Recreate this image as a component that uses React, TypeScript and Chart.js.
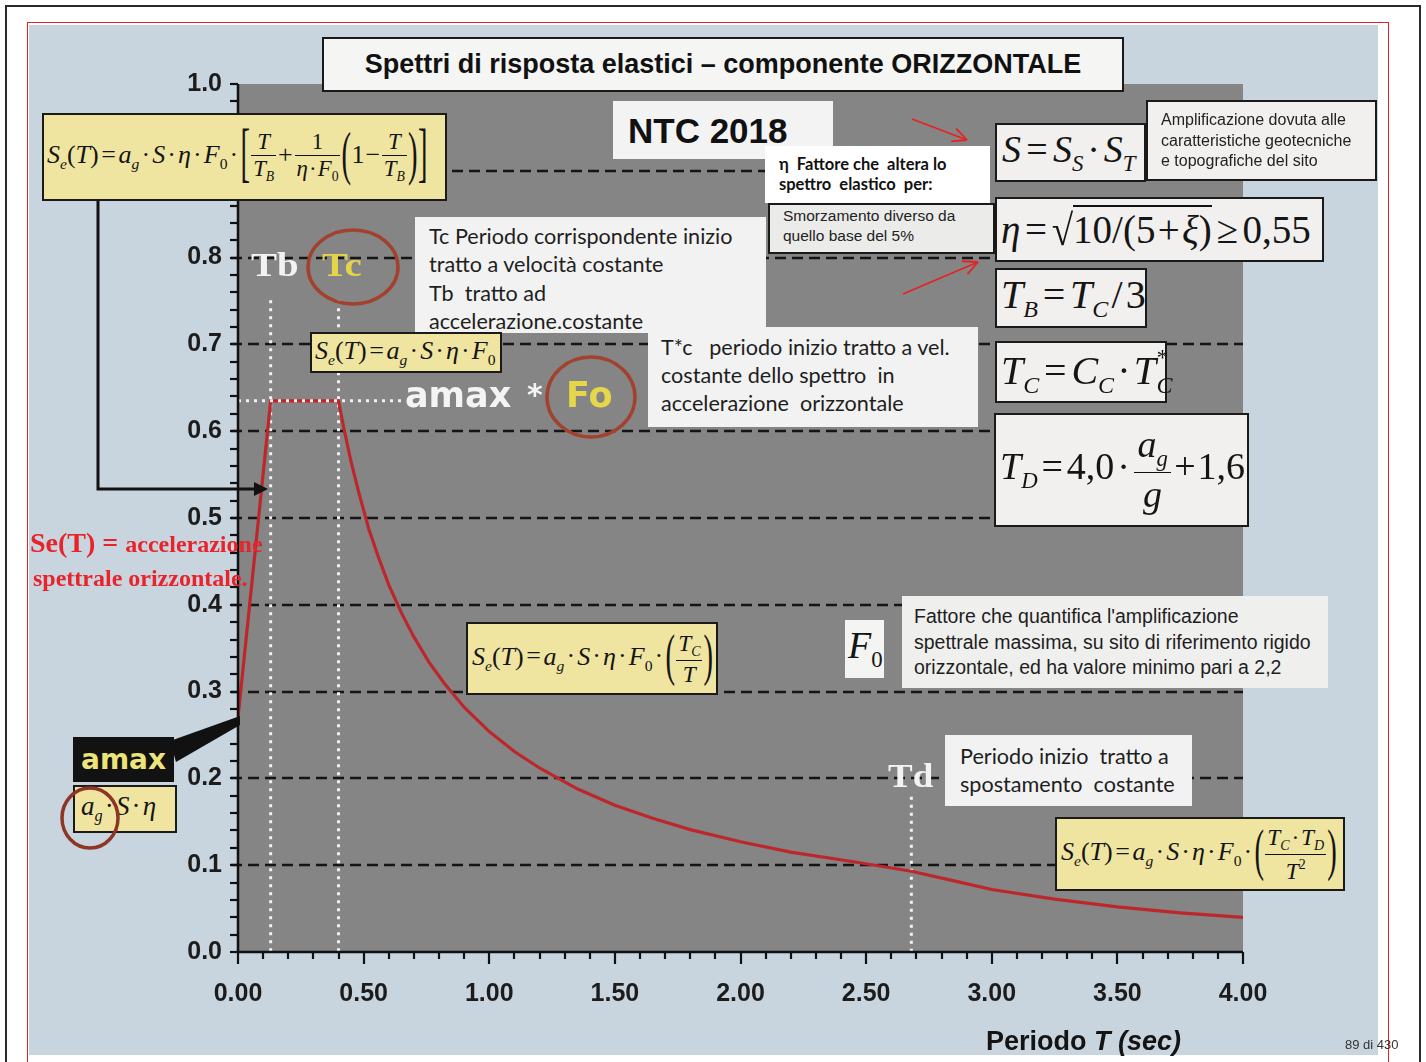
import React, { useEffect, useRef } from 'react';
import { Chart, registerables } from 'chart.js';

Chart.register(...registerables);

// ---------------- data ----------------
const periods = [0, 0.13, 0.40, 0.42, 0.45, 0.48, 0.52, 0.56, 0.60, 0.65, 0.70, 0.76, 0.82, 0.90, 1.00, 1.10, 1.20, 1.35, 1.50, 1.65, 1.80, 2.00, 2.20, 2.45, 2.68, 2.85, 3.00, 3.25, 3.50, 3.75, 4.00];
const spectralAcc = [0.27, 0.635, 0.635, 0.605, 0.565, 0.53, 0.488, 0.454, 0.423, 0.391, 0.363, 0.334, 0.31, 0.282, 0.254, 0.231, 0.212, 0.188, 0.169, 0.154, 0.141, 0.127, 0.115, 0.104, 0.093, 0.082, 0.072, 0.061, 0.052, 0.045, 0.040];
const gridValues = [0.1, 0.2, 0.3, 0.4, 0.5, 0.6, 0.7, 0.8, 0.9];
const cornerPeriods = [0.13, 0.40, 2.68]; // Tb, Tc, Td
const cornerLineTop = [0.751, 0.751, 0.179];
const plateauValue = 0.635;
const plateauLineEnd = 0.65;
const xRange = [0, 4];
const yRange = [0, 1];
const xMajorStep = 0.5;
const xMinorStep = 0.1;
const yMajorStep = 0.1;
const yMinorStep = 0.02;

// ---------------- styles ----------------
const SANS = '"Liberation Sans", Arial, sans-serif';
const SERIF = '"Liberation Serif", "Times New Roman", serif';
const CAL = 'Lato, "Open Sans", sans-serif';
const DJ = '"DejaVu Sans", Verdana, sans-serif';
const BLUE_BG = '#c8d5df';
const PLOT_BG = '#858585';
const YEL = '#efe5a1';
const WBOX = '#f1f0ee';
const GBOX = '#f2f2f2';
const CURVE = '#bd272c';
const BORDER = '2px solid #1a1a1a';

const decor = {
  id: 'decor',
  beforeDraw(chart: any) {
    const { ctx, chartArea: a } = chart;
    ctx.save();
    ctx.fillStyle = PLOT_BG;
    ctx.fillRect(a.left, a.top, a.right - a.left, a.bottom - a.top);
    ctx.restore();
  },
  beforeDatasetsDraw(chart: any) {
    const { ctx, chartArea: a, scales } = chart;
    const x = scales.x, y = scales.y;
    ctx.save();
    ctx.strokeStyle = '#151515';
    ctx.lineWidth = 2.4;
    ctx.setLineDash([11, 6]);
    gridValues.forEach((v) => {
      const py = Math.round(y.getPixelForValue(v));
      ctx.beginPath();
      ctx.moveTo(a.left - 7, py);
      ctx.lineTo(a.right, py);
      ctx.stroke();
    });
    ctx.strokeStyle = 'rgba(248,248,248,0.95)';
    ctx.lineWidth = 3;
    ctx.setLineDash([3, 5]);
    cornerPeriods.forEach((t, i) => {
      const px = x.getPixelForValue(t);
      ctx.beginPath();
      ctx.moveTo(px, y.getPixelForValue(cornerLineTop[i]));
      ctx.lineTo(px, a.bottom);
      ctx.stroke();
    });
    ctx.restore();
  },
  afterDatasetsDraw(chart: any) {
    const { ctx, chartArea: a, scales } = chart;
    const x = scales.x, y = scales.y;
    ctx.save();
    ctx.strokeStyle = 'rgba(248,248,248,0.95)';
    ctx.lineWidth = 3;
    ctx.setLineDash([3, 5]);
    const pv = y.getPixelForValue(plateauValue);
    ctx.beginPath();
    ctx.moveTo(a.left, pv);
    ctx.lineTo(x.getPixelForValue(plateauLineEnd), pv);
    ctx.stroke();
    ctx.setLineDash([]);
    ctx.strokeStyle = '#111';
    ctx.lineWidth = 2.5;
    ctx.beginPath();
    ctx.moveTo(a.left, a.top);
    ctx.lineTo(a.left, a.bottom);
    ctx.lineTo(a.right, a.bottom);
    ctx.stroke();
    ctx.lineWidth = 2.2;
    const ny = Math.round((yRange[1] - yRange[0]) / yMinorStep);
    for (let i = 0; i <= ny; i++) {
      const py = Math.round(y.getPixelForValue(yRange[0] + i * yMinorStep));
      ctx.beginPath();
      ctx.moveTo(a.left - 8, py);
      ctx.lineTo(a.left, py);
      ctx.stroke();
    }
    const nx = Math.round((xRange[1] - xRange[0]) / xMinorStep);
    const perMajor = Math.round(xMajorStep / xMinorStep);
    for (let i = 0; i <= nx; i++) {
      const px = Math.round(x.getPixelForValue(xRange[0] + i * xMinorStep));
      ctx.beginPath();
      ctx.moveTo(px, a.bottom);
      ctx.lineTo(px, a.bottom + (i % perMajor === 0 ? 12 : 7));
      ctx.stroke();
    }
    ctx.restore();
  },
};

// ---------------- math helpers ----------------
function Sub({ children, upright = false }: any) {
  return (
    <span style={{ fontSize: '0.6em', fontStyle: upright ? 'normal' : 'italic', verticalAlign: '-0.38em' }}>{children}</span>
  );
}
function Op({ children, gap = 0.1 }: any) {
  return <span style={{ margin: `0 ${gap}em` }}>{children}</span>;
}
function Dot({ gap = 0.08 }: any) {
  return <Op gap={gap}>·</Op>;
}
function Frac({ n, d, size = 0.9 }: any) {
  return (
    <span
      style={{
        display: 'inline-flex',
        flexDirection: 'column',
        alignItems: 'stretch',
        verticalAlign: 'middle',
        fontSize: `${size}em`,
        lineHeight: 1.05,
        margin: '0 0.04em',
        textAlign: 'center',
      }}
    >
      <span style={{ padding: '0 0.08em 0.05em' }}>{n}</span>
      <span style={{ borderTop: '1.6px solid #111', padding: '0.05em 0.08em 0' }}>{d}</span>
    </span>
  );
}
function Big({ ch, sy = 1.9, size = 1.1 }: any) {
  return (
    <span
      style={{
        display: 'inline-block',
        fontSize: `${size}em`,
        transform: `scaleY(${sy})`,
        verticalAlign: 'middle',
        lineHeight: 1,
        margin: '0 0.01em',
        position: 'relative',
        top: '-0.08em',
      }}
    >
      {ch}
    </span>
  );
}
function SubSup({ sub, sup }: any) {
  return (
    <span
      style={{
        display: 'inline-flex',
        flexDirection: 'column',
        fontSize: '0.6em',
        lineHeight: 1.15,
        verticalAlign: '0.78em',
        marginLeft: '0.02em',
      }}
    >
      <span>{sup}</span>
      <span style={{ fontStyle: 'italic' }}>{sub}</span>
    </span>
  );
}
function SeHead() {
  return (
    <>
      <i>S</i>
      <Sub>e</Sub>(<i>T</i>)<Op>=</Op>
      <i>a</i>
      <Sub>g</Sub>
      <Dot />
      <i>S</i>
      <Dot />
      <i>η</i>
      <Dot />
      <i>F</i>
      <Sub upright>0</Sub>
    </>
  );
}

function Box({ x, y, w, h, bg, border = BORDER, pad = 5, fs, children, justify = 'flex-start' }: any) {
  return (
    <div
      style={{
        position: 'absolute',
        left: x,
        top: y,
        width: w,
        height: h,
        boxSizing: 'border-box',
        background: bg,
        border,
        display: 'flex',
        alignItems: 'center',
        justifyContent: justify,
        paddingLeft: pad,
        fontFamily: SERIF,
        fontSize: fs,
        color: '#151515',
        whiteSpace: 'nowrap',
      }}
    >
      <div style={{ lineHeight: 1 }}>{children}</div>
    </div>
  );
}

function TextBox({ x, y, w, h, bg, border = 'none', lines, font, fs, lh, padL, padT, weight = 400, color = '#1e1e1e' }: any) {
  return (
    <div
      style={{
        position: 'absolute',
        left: x,
        top: y,
        width: w,
        height: h,
        boxSizing: 'border-box',
        background: bg,
        border,
        paddingLeft: padL,
        paddingTop: padT,
        fontFamily: font,
        fontSize: fs,
        fontWeight: weight,
        color,
        whiteSpace: 'pre',
        overflow: 'hidden',
      }}
    >
      {lines.map((l: string, i: number) => (
        <div key={i} style={{ lineHeight: `${lh}px`, height: lh }}>
          {l}
        </div>
      ))}
    </div>
  );
}

function Label({ x, y, fs, lh, font, weight = 700, color, children, style = {} }: any) {
  return (
    <div
      style={{
        position: 'absolute',
        left: x,
        top: y,
        fontFamily: font,
        fontSize: fs,
        lineHeight: `${lh}px`,
        fontWeight: weight,
        color,
        whiteSpace: 'nowrap',
        ...style,
      }}
    >
      {children}
    </div>
  );
}

function Arrow({ x1, y1, x2, y2 }: any) {
  const ang = Math.atan2(y2 - y1, x2 - x1);
  const L = 16;
  const a1 = ang + Math.PI - 0.45;
  const a2 = ang + Math.PI + 0.45;
  return (
    <g stroke="#e62222" strokeWidth={1.8} fill="none">
      <line x1={x1} y1={y1} x2={x2} y2={y2} />
      <line x1={x2} y1={y2} x2={x2 + L * Math.cos(a1)} y2={y2 + L * Math.sin(a1)} />
      <line x1={x2} y1={y2} x2={x2 + L * Math.cos(a2)} y2={y2 + L * Math.sin(a2)} />
    </g>
  );
}

export default function App() {
  const ref = useRef<HTMLCanvasElement | null>(null);

  useEffect(() => {
    if (!ref.current) return;
    const tickFont = { family: SANS, size: 25, weight: 'bold' as const };
    const chart = new Chart(ref.current, {
      type: 'line',
      data: {
        datasets: [
          {
            data: periods.map((t, i) => ({ x: t, y: spectralAcc[i] })),
            borderColor: CURVE,
            borderWidth: 3.2,
            pointRadius: 0,
            tension: 0,
            fill: false,
          },
        ],
      },
      options: {
        animation: false,
        responsive: false,
        devicePixelRatio: 1,
        events: [],
        layout: { padding: { left: 178, top: 84, right: 183, bottom: 50 } },
        plugins: { legend: { display: false }, tooltip: { enabled: false } },
        scales: {
          x: {
            type: 'linear',
            min: xRange[0],
            max: xRange[1],
            afterFit: (s: any) => {
              s.height = 60;
            },
            grid: { display: false },
            border: { display: false },
            ticks: {
              stepSize: xMajorStep,
              autoSkip: false,
              maxRotation: 0,
              padding: 19,
              color: '#1c1c1c',
              font: tickFont,
              callback: (v: any) => Number(v).toFixed(2),
            },
          },
          y: {
            type: 'linear',
            min: yRange[0],
            max: yRange[1],
            afterFit: (s: any) => {
              s.width = 60;
            },
            grid: { display: false },
            border: { display: false },
            ticks: {
              stepSize: yMajorStep,
              padding: 8,
              color: '#1c1c1c',
              font: tickFont,
              callback: (v: any) => Number(v).toFixed(1),
            },
          },
        },
      },
      plugins: [decor],
    });
    return () => chart.destroy();
  }, []);

  return (
    <div style={{ position: 'absolute', left: 0, top: 0, width: 1426, height: 1062, overflow: 'hidden', background: '#fff' }}>
      {/* page frames */}
      <div style={{ position: 'absolute', left: 5, top: 5, width: 1416, height: 1100, border: '2px solid #2a2a2a', boxSizing: 'border-box' }} />
      <div style={{ position: 'absolute', left: 27, top: 22, width: 1362, height: 1100, border: '1.5px solid #e02424', boxSizing: 'border-box' }} />
      <div style={{ position: 'absolute', left: 29, top: 25, width: 1349, height: 1030, background: BLUE_BG }} />

      <canvas ref={ref} width={1426} height={1062} style={{ position: 'absolute', left: 0, top: 0 }} />

      {/* title */}
      <div
        style={{
          position: 'absolute', left: 322, top: 37, width: 802, height: 55, boxSizing: 'border-box',
          background: '#f5f5f4', border: BORDER, fontFamily: SANS, fontWeight: 700, fontSize: 27,
          lineHeight: '30px', paddingTop: 10, textAlign: 'center', color: '#111', whiteSpace: 'nowrap',
        }}
      >
        Spettri di risposta elastici – componente ORIZZONTALE
      </div>

      {/* NTC 2018 */}
      <TextBox x={613} y={101} w={220} h={58} bg="#f3f3f3" lines={['NTC 2018']} font={SANS} fs={35} lh={40} padL={15} padT={10} weight={700} color="#111" />

      {/* eta description */}
      <TextBox x={768} y={203} w={227} h={51} bg="#ebebea" border={BORDER} lines={['Smorzamento diverso da', 'quello base del 5%']} font={SANS} fs={15.5} lh={20} padL={13} padT={1} color="#222" />
      <TextBox x={765} y={146} w={225} h={57} bg="#ffffff" lines={['η  Fattore che  altera lo', 'spettro  elastico  per:']} font={CAL} fs={16.5} lh={20} padL={14} padT={8} weight={700} color="#111" />

      {/* Tc description */}
      <TextBox x={415} y={217} w={351} h={116} bg={GBOX} lines={['Tc Periodo corrispondente inizio', 'tratto a velocità costante', 'Tb  tratto ad', 'accelerazione.costante']} font={CAL} fs={21.6} lh={28.3} padL={14} padT={5} />
      {/* T*c description */}
      <TextBox x={648} y={327} w={330} h={100} bg={GBOX} lines={['T*c   periodo inizio tratto a vel.', 'costante dello spettro  in', 'accelerazione  orizzontale']} font={CAL} fs={21.6} lh={28} padL={13} padT={6} />

      {/* right column formulas */}
      <Box x={995} y={123} w={151} h={59} bg={WBOX} fs={38} pad={5}>
        <i>S</i><Op gap={0.14}>=</Op><i>S</i><Sub>S</Sub><Dot gap={0.1} /><i>S</i><Sub>T</Sub>
      </Box>
      <TextBox x={1146} y={100} w={231} h={81} bg={WBOX} border={BORDER} lines={['Amplificazione dovuta alle', 'caratteristiche geotecniche', 'e topografiche del sito']} font={SANS} fs={16} lh={20.5} padL={13} padT={8} color="#222" />
      <Box x={995} y={197} w={329} h={65} bg={WBOX} fs={39} pad={4}>
        <i>η</i><Op gap={0.12}>=</Op>
        <span style={{ display: 'inline-block', transform: 'scaleY(1.12)' }}>√</span>
        <span style={{ borderTop: '2px solid #111', paddingTop: 1 }}>
          10/(5<Op gap={0.06}>+</Op><i>ξ</i>)
        </span>
        <Op gap={0.12}>≥</Op>0,55
      </Box>
      <Box x={995} y={268} w={152} h={60} bg={WBOX} fs={40} pad={4}>
        <i>T</i><Sub>B</Sub><Op gap={0.12}>=</Op><i>T</i><Sub>C</Sub><Op gap={0.08}>/</Op>3
      </Box>
      <Box x={995} y={341} w={172} h={62} bg={WBOX} fs={40} pad={4}>
        <i>T</i><Sub>C</Sub><Op gap={0.12}>=</Op><i>C</i><Sub>C</Sub><Dot /><i>T</i><SubSup sub="C" sup="*" />
      </Box>
      <Box x={994} y={413} w={255} h={114} bg={WBOX} fs={38} pad={4}>
        <i>T</i><Sub>D</Sub><Op gap={0.1}>=</Op>4,0<Dot />
        <Frac size={1} n={<><i>a</i><Sub>g</Sub></>} d={<i>g</i>} />
        <Op gap={0.05}>+</Op>1,6
      </Box>

      {/* yellow formulas */}
      <Box x={42} y={113} w={405} h={88} bg={YEL} fs={26} pad={3}>
        <SeHead /><Dot />
        <Big ch="[" sy={2.3} />
        <Frac size={0.88} n={<i>T</i>} d={<><i>T</i><Sub>B</Sub></>} />
        <Op gap={0.04}>+</Op>
        <Frac size={0.88} n="1" d={<><i>η</i><Dot gap={0.05} /><i>F</i><Sub upright>0</Sub></>} />
        <Big ch="(" sy={2.1} />1<Op gap={0.04}>−</Op>
        <Frac size={0.88} n={<i>T</i>} d={<><i>T</i><Sub>B</Sub></>} />
        <Big ch=")" sy={2.1} />
        <Big ch="]" sy={2.3} />
      </Box>
      <Box x={310} y={332} w={192} h={41} bg={YEL} fs={26} pad={3}>
        <SeHead />
      </Box>
      <Box x={466} y={622} w={252} h={73} bg={YEL} fs={26} pad={4}>
        <SeHead /><Dot />
        <Big ch="(" sy={2} />
        <Frac n={<><i>T</i><Sub>C</Sub></>} d={<i>T</i>} />
        <Big ch=")" sy={2} />
      </Box>
      <Box x={1055} y={817} w={290} h={74} bg={YEL} fs={26} pad={4}>
        <SeHead /><Dot />
        <Big ch="(" sy={2} />
        <Frac n={<><i>T</i><Sub>C</Sub><Dot /><i>T</i><Sub>D</Sub></>} d={<><i>T</i><span style={{ fontSize: '0.6em', verticalAlign: '0.7em' }}>2</span></>} />
        <Big ch=")" sy={2} />
      </Box>

      {/* F0 description */}
      <Box x={845} y={620} w={39} h={58} bg="#f4f4f2" border="none" fs={38} pad={3}>
        <i>F</i><Sub upright>0</Sub>
      </Box>
      <TextBox x={902} y={596} w={426} h={92} bg="#efefee" lines={["Fattore che quantifica l'amplificazione", 'spettrale massima, su sito di riferimento rigido', 'orizzontale, ed ha valore minimo pari a 2,2']} font={SANS} fs={19.5} lh={25.7} padL={12} padT={8} color="#1e1e1e" />

      {/* Td description */}
      <TextBox x={945} y={735} w={247} h={71} bg={GBOX} lines={['Periodo inizio  tratto a', 'spostamento  costante']} font={CAL} fs={21.6} lh={28} padL={15} padT={7} />

      {/* amax label */}
      <div
        style={{
          position: 'absolute', left: 73, top: 737, width: 101, height: 45, background: '#121212',
          color: '#ece47a', fontFamily: DJ, fontWeight: 700, fontSize: 28, lineHeight: '45px', textAlign: 'center',
        }}
      >
        amax
      </div>
      <Box x={73} y={785} w={104} h={48} bg={YEL} fs={27} pad={6}>
        <i>a</i><Sub>g</Sub><Dot /><i>S</i><Dot /><i>η</i>
      </Box>

      {/* chart labels */}
      <Label x={251} y={245} fs={33} lh={40} font={SERIF} color="#f2f2f2" style={{ transform: 'scaleX(1.18)', transformOrigin: 'left' }}>Tb</Label>
      <Label x={322} y={245} fs={33} lh={40} font={SERIF} color="#e4d44a" style={{ transform: 'scaleX(1.18)', transformOrigin: 'left' }}>Tc</Label>
      <Label x={888} y={756} fs={33} lh={40} font={SERIF} color="#f2f2f2" style={{ transform: 'scaleX(1.12)', transformOrigin: 'left' }}>Td</Label>
      <Label x={405} y={375} fs={35} lh={40} font={DJ} color="#f4f4f4">amax</Label>
      <Label x={527} y={375} fs={30} lh={40} font={DJ} color="#f4f4f4">*</Label>
      <Label x={566} y={375} fs={35} lh={40} font={DJ} color="#e6d64a">Fo</Label>

      {/* red side text */}
      <Label x={30} y={527} fs={28} lh={32} font={SERIF} color="#e8232a">
        Se(T) = <span style={{ fontSize: 24 }}>accelerazione</span>
      </Label>
      <Label x={33} y={564} fs={24} lh={28} font={SERIF} color="#e8232a">spettrale orizzontale.</Label>

      {/* axis title + page number */}
      <Label x={986} y={1026} fs={27} lh={30} font={SANS} color="#141414">
        Periodo <i>T (sec)</i>
      </Label>
      <Label x={1345} y={1037} fs={13} lh={16} font={SANS} weight={400} color="#333">89 di 430</Label>

      {/* vector decorations */}
      <svg width={1426} height={1062} style={{ position: 'absolute', left: 0, top: 0, pointerEvents: 'none' }}>
        <polyline points="98,201 98,489 258,489" stroke="#111" strokeWidth={3} fill="none" />
        <polygon points="254,482 268,489 254,496" fill="#111" />
        <polygon points="170,741 240,716 240,725 176,762" fill="#111" />
        <ellipse cx={353} cy={267} rx={45} ry={37} stroke="#a3412f" strokeWidth={3.5} fill="none" />
        <ellipse cx={591} cy={397} rx={44} ry={40} stroke="#a3412f" strokeWidth={3.5} fill="none" />
        <ellipse cx={90} cy={818} rx={28} ry={30} stroke="#8e3526" strokeWidth={3.5} fill="none" />
        <Arrow x1={912} y1={119} x2={967} y2={140} />
        <Arrow x1={903} y1={294} x2={978} y2={262} />
      </svg>
    </div>
  );
}
